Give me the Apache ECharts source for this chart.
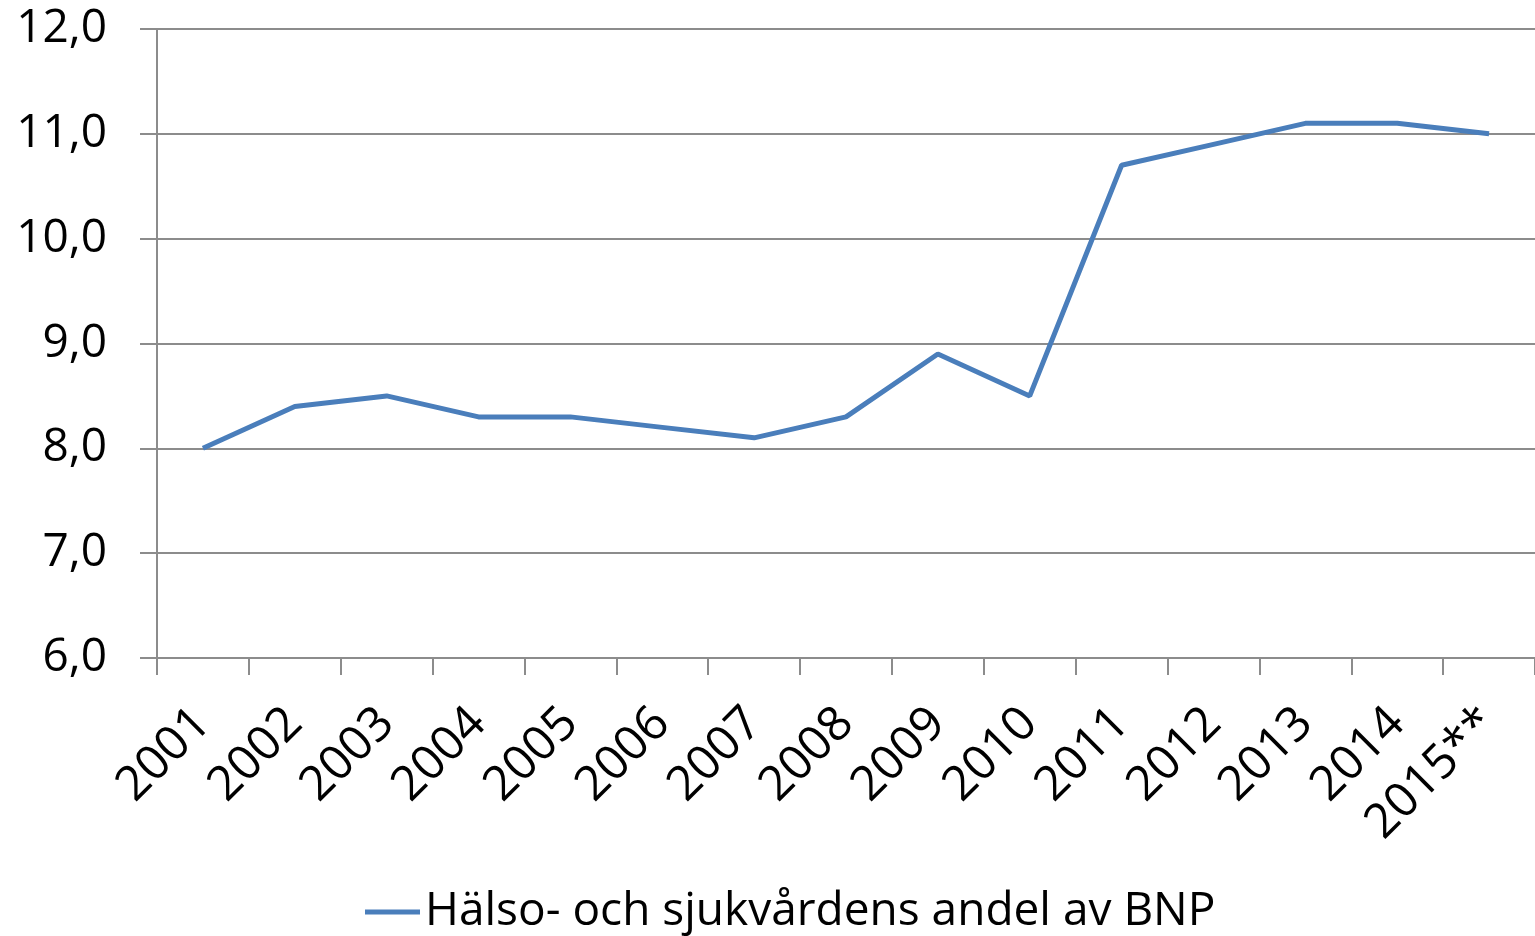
<!DOCTYPE html>
<html>
<head>
<meta charset="utf-8">
<script src="https://cdn.jsdelivr.net/npm/echarts@6/dist/echarts.min.js"></script>
<style>
  html, body { margin: 0; padding: 0; background: #fff; }
  #chart { width: 1535px; height: 936px; }
</style>
</head>
<body>
<div id="chart"></div>
<script>
// categories and values
const years = ['2001', '2002', '2003', '2004', '2005', '2006', '2007', '2008',
               '2009', '2010', '2011', '2012', '2013', '2014', '2015**'];
const shareOfGdp = [8.0, 8.4, 8.5, 8.3, 8.3, 8.2, 8.1, 8.3, 8.9, 8.5, 10.7, 10.9, 11.1, 11.1, 11.0];
const seriesName = 'Hälso- och sjukvårdens andel av BNP';

const fontFamily = '"Open Sans", "DejaVu Sans", sans-serif';
const gridColor = '#8c8c8c';
const lineColor = '#4a7ebb';

let myChart = echarts.init(document.getElementById('chart'));
myChart.setOption({
    animation: false,
    grid: {
        left: 157,
        right: -2,
        top: 29,
        bottom: 278,
        containLabel: false
    },
    legend: {
        show: true,
        left: 360,
        top: 884,
        icon: 'rect',
        itemWidth: 55,
        itemHeight: 5,
        itemGap: 5,
        itemStyle: {color: lineColor},
        textStyle: {color: '#000', fontSize: 46, fontFamily: fontFamily},
        data: [seriesName]
    },
    xAxis: {
        type: 'category',
        boundaryGap: true,
        data: years,
        axisLine: {show: true, lineStyle: {color: gridColor, width: 2}},
        axisTick: {show: true, length: 17, alignWithLabel: false, lineStyle: {color: gridColor, width: 2}},
        axisLabel: {
            rotate: 45,
            margin: 58,
            interval: 0,
            color: '#000',
            fontSize: 48,
            fontFamily: fontFamily
        },
        splitLine: {show: false}
    },
    yAxis: {
        type: 'value',
        min: 6,
        max: 12,
        interval: 1,
        axisLine: {show: true, lineStyle: {color: gridColor, width: 2}},
        axisTick: {show: true, length: 17, lineStyle: {color: gridColor, width: 2}},
        axisLabel: {
            margin: 50,
            color: '#000',
            fontSize: 46,
            fontFamily: fontFamily,
            formatter: (v) => v.toFixed(1).replace('.', ',')
        },
        splitLine: {show: true, lineStyle: {color: gridColor, width: 2}}
    },
    series: [{
        name: seriesName,
        type: 'line',
        symbol: 'none',
        data: shareOfGdp,
        lineStyle: {color: lineColor, width: 5},
        itemStyle: {color: lineColor}
    }]
});
</script>
</body>
</html>
